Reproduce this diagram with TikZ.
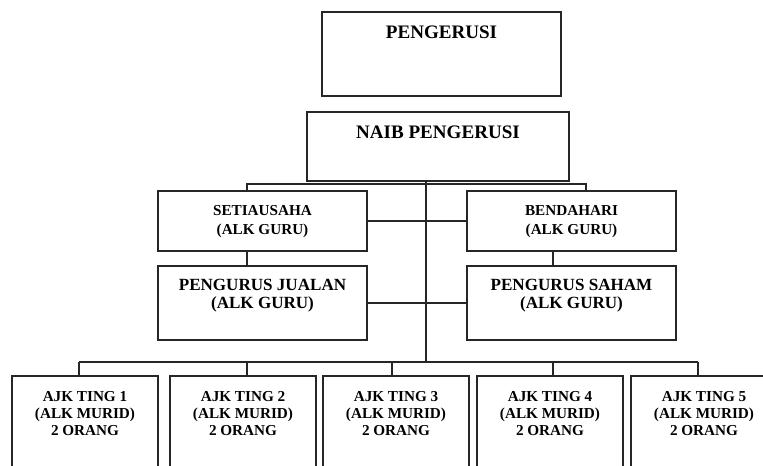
\documentclass[tikz,border=0pt]{standalone}
\usepackage{fontspec}
\setmainfont{Liberation Serif}
\usetikzlibrary{positioning}

\tikzset{
  box/.style 2 args={draw=black!85, line width=0.9pt, inner sep=0pt,
    minimum width=#1*0.75pt, minimum height=#2*0.75pt},
  big/.style={inner sep=0pt, align=center, font=\bfseries\fontsize{14.3}{17}\selectfont},
  mid/.style={inner sep=0pt, align=center, font=\bfseries\fontsize{12.8}{13.4}\selectfont},
  small/.style={inner sep=0pt, align=center, font=\bfseries\fontsize{11.4}{14.4}\selectfont},
  tiny/.style={inner sep=0pt, align=center, font=\bfseries\fontsize{11.4}{12.8}\selectfont},
  link/.style={draw=black!85, line width=0.9pt},
}

\begin{document}
\begin{tikzpicture}[x=0.75pt,y=-0.75pt]
\useasboundingbox (0,0) rectangle (763,466);
\clip (0,0) rectangle (763,466);

% boxes
\node[box={239}{84}] (peng) at (441.5,54) {};
\node[box={262}{69}] (naib) at (438,146.5) {};
\node[box={209}{60}] (setia) at (262.5,221) {};
\node[box={209}{60}] (benda) at (571.5,221) {};
\node[box={209}{74}] (jualan) at (262.5,303) {};
\node[box={209}{74}] (saham) at (571.5,303) {};
\foreach \i/\x in {1/85,2/243,3/396,4/550,5/704}
  \node[box={146}{114}] (ajk\i) at (\x,433) {};

% texts
\node[big, below=11pt of peng.north] {PENGERUSI};
\node[big, below=10.5pt of naib.north] {NAIB PENGERUSI};
\node[small, below=11pt of setia.north] {SETIAUSAHA\\(ALK GURU)};
\node[small, below=11pt of benda.north] {BENDAHARI\\(ALK GURU)};
\node[mid, below=10.5pt of jualan.north] {PENGURUS JUALAN\\(ALK GURU)};
\node[mid, below=10.5pt of saham.north] {PENGURUS SAHAM\\(ALK GURU)};
\foreach \i in {1,...,5}
  \node[tiny, below=11.5pt of ajk\i.north] {AJK TING \i\\(ALK MURID)\\2 ORANG};

% connectors
\coordinate (trunk) at (426,362);
\coordinate (busL) at (247,184);
\coordinate (busR) at (586,184);
\coordinate (sdrop) at (553,258);
\draw[link] (naib.south -| trunk) -- (trunk);
\draw[link] (setia.north -| busL) -- (busL) -- (busR) -- (benda.north -| busR);
\draw[link] (setia.east) -- (benda.west);
\draw[link] (jualan.east) -- (saham.west);
\draw[link] (setia.south -| busL) -- (jualan.north -| busL);
\draw[link] (benda.south -| sdrop) -- (saham.north -| sdrop);

\foreach \i/\x in {1/79,2/247,3/392,4/553,5/698}
  \coordinate (b\i) at (\x,362);
\draw[link] (b1) -- (b5);
\foreach \i in {1,...,5}
  \draw[link] (b\i) -- (ajk\i.north -| b\i);
\end{tikzpicture}
\end{document}
